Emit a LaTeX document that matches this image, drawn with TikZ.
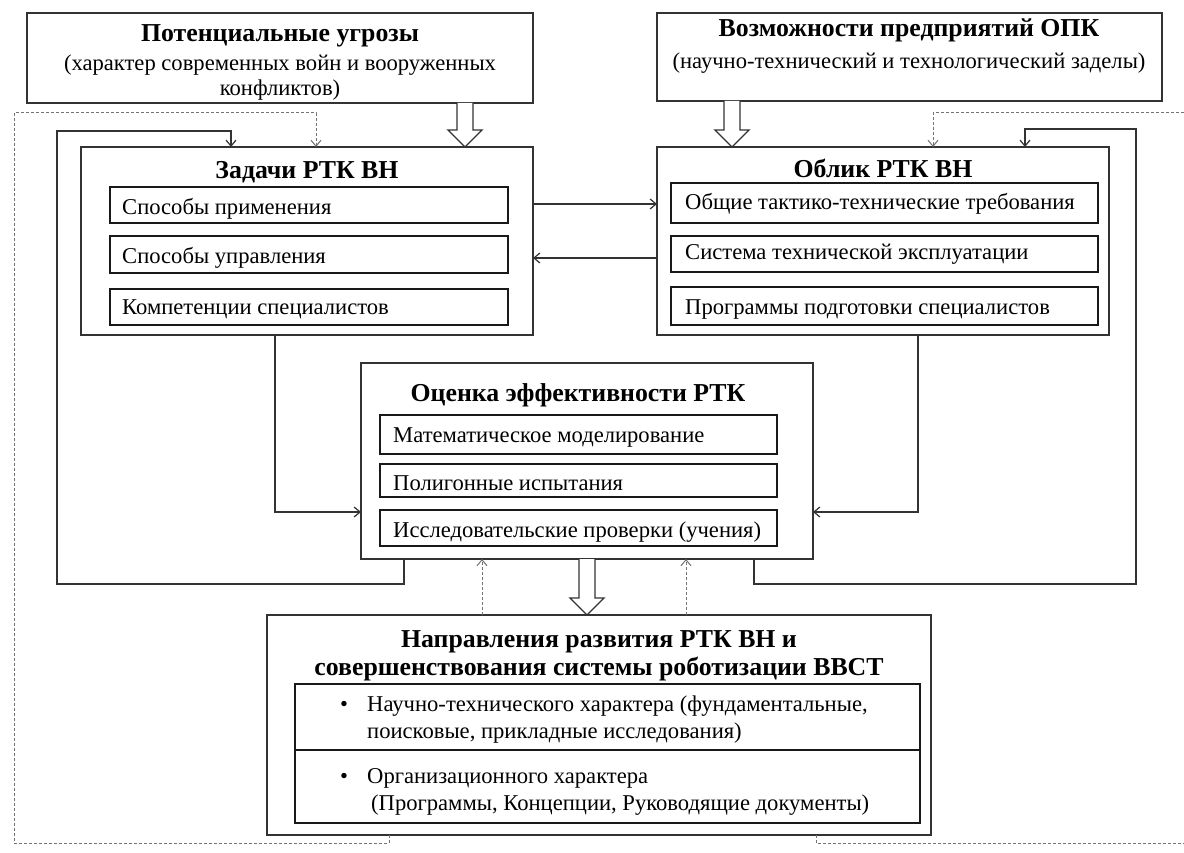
\documentclass[tikz,border=0pt]{standalone}
\usepackage{fontspec}
\setmainfont{Liberation Serif}
\usetikzlibrary{arrows.meta,positioning,fit,calc}
\tikzset{
  outerbox/.style={draw=black!80, line width=1.4pt, inner sep=0pt, outer sep=0pt},
  innerbox/.style={draw=black!90, line width=2.3pt, inner sep=0pt, outer sep=0pt},
  txt/.style={font=\fontsize{22.6}{26}\selectfont, inner sep=0pt, text=black},
  ttl/.style={font=\bfseries\fontsize{25.8}{30}\selectfont, inner sep=0pt, text=black},
  conn/.style={draw=black!80, line width=1.4pt, -{Straight Barb[length=6pt,width=10pt,line width=1.2pt]}},
  dashconn/.style={draw=black!55, line width=1pt, dash pattern=on 3pt off 2pt},
  dasharrow/.style={dashconn, -{Straight Barb[length=6pt,width=10pt,line width=1pt]}},
  blockarrow/.style={draw=black!80, line width=1.4pt, fill=white, line join=miter}
}
\newcommand\blockarrow[2]{%
  \draw[blockarrow] let \p1=(#1), \p2=(#2) in
    (\x1-8pt,\y1) -- (\x1-8pt,\y2+17pt) -- (\x1-17pt,\y2+17pt) -- (\x1,\y2)
    -- (\x1+17pt,\y2+17pt) -- (\x1+8pt,\y2+17pt) -- (\x1+8pt,\y1);}
\begin{document}
\begin{tikzpicture}[x=1pt,y=-1pt]
\useasboundingbox[fill=white] (0,0) rectangle (1184,853);

% ---- top boxes
\node[outerbox, fit={(27,13) (533,103)}] (A) {};
\node[ttl, anchor=base] (At) at (280,42) {Потенциальные угрозы};
\node[txt, anchor=base] (As1) at (280,71) {(характер современных войн и вооруженных};
\node[txt, anchor=base] (As2) at (280,96) {конфликтов)};

\node[outerbox, fit={(657,13) (1162,101)}] (B) {};
\node[ttl, anchor=base] (Bt) at (909,37) {Возможности предприятий ОПК};
\node[txt, anchor=base] (Bs) at (909,69) {(научно-технический и технологический заделы)};

% ---- Задачи
\node[outerbox, fit={(81,147) (533,335)}] (Z) {};
\node[ttl, anchor=base] (Zt) at (307,179) {Задачи РТК ВН};
\node[innerbox, fit={(110,187) (508,223)}] (Z1) {};
\node[innerbox, fit={(110,236) (508,273)}] (Z2) {};
\node[innerbox, fit={(110,289) (508,325)}] (Z3) {};
\node[txt, anchor=base west] (Z1t) at (122,215) {Способы применения};
\node[txt, anchor=base west] (Z2t) at (122,264) {Способы управления};
\node[txt, anchor=base west] (Z3t) at (122,314) {Компетенции специалистов};

% ---- Облик
\node[outerbox, fit={(657,147) (1109,335)}] (O) {};
\node[ttl, anchor=base] (Ot) at (883,178) {Облик РТК ВН};
\node[innerbox, fit={(671,183) (1098,223)}] (O1) {};
\node[innerbox, fit={(671,236) (1098,272)}] (O2) {};
\node[innerbox, fit={(671,287) (1098,325)}] (O3) {};
\node[txt, anchor=base west] (O1t) at (685,210) {Общие тактико-технические требования};
\node[txt, anchor=base west] (O2t) at (685,260) {Система технической эксплуатации};
\node[txt, anchor=base west] (O3t) at (685,315) {Программы подготовки специалистов};

% ---- Оценка
\node[outerbox, fit={(361,363) (813,559)}] (E) {};
\node[ttl, anchor=base] (Et) at (578,401) {Оценка эффективности РТК};
\node[innerbox, fit={(380,415) (777,454)}] (E1) {};
\node[innerbox, fit={(380,464) (777,497)}] (E2) {};
\node[innerbox, fit={(380,510) (777,546)}] (E3) {};
\node[txt, anchor=base west] (E1t) at (393,442) {Математическое моделирование};
\node[txt, anchor=base west] (E2t) at (393,490) {Полигонные испытания};
\node[txt, anchor=base west] (E3t) at (393,537) {Исследовательские проверки (учения)};

% ---- Направления
\node[outerbox, fit={(267,615) (931,835)}] (N) {};
\node[ttl, anchor=base] (Nt1) at (599,647) {Направления развития РТК ВН и};
\node[ttl, anchor=base] (Nt2) at (599,675) {совершенствования системы роботизации ВВСТ};
\node[innerbox, fit={(295,684) (920,750)}] (N1) {};
\node[innerbox, fit={(295,750) (920,823)}] (N2) {};
\node[txt, anchor=base west] (N1b) at (340,711) {•};
\node[txt, anchor=base west] (N1t) at (367,711) {Научно-технического характера (фундаментальные,};
\node[txt, anchor=base west] (N1u) at (367,738) {поисковые, прикладные исследования)};
\node[txt, anchor=base west] (N2b) at (340,783) {•};
\node[txt, anchor=base west] (N2t) at (367,783) {Организационного характера};
\node[txt, anchor=base west] (N2u) at (371,810) {(Программы, Концепции, Руководящие документы)};

% ---- block arrows
\blockarrow{465,0 |- A.south}{465,0 |- Z.north}
\blockarrow{732,0 |- B.south}{732,0 |- O.north}
\blockarrow{587,0 |- E.south}{587,0 |- N.north}

% ---- connectors
\draw[conn] (Z.east |- 0,204) -- (O.west |- 0,204);
\draw[conn] (O.west |- 0,258) -- (Z.east |- 0,258);
\draw[conn] (275,0 |- Z.south) |- (E.west |- 0,512);
\draw[conn] (918,0 |- O.south) |- (E.east |- 0,512);
\draw[conn] (404,0 |- E.south) |- (57,584) |- (231,131) -- (231,0 |- Z.north);
\draw[conn] (754,0 |- E.south) |- (1136,584) |- (1025,129) -- (1025,0 |- O.north);

% ---- dashed feedback
\coordinate (rtop) at (1184,113);
\coordinate (rbot) at (1184,843);
\draw[dasharrow] (389,0 |- N.south) |- (14,843) |- (316,113) -- (316,0 |- Z.north);
\draw[dashconn] (816,0 |- N.south) |- (rbot);
\draw[dasharrow] (rtop) -| (933,0 |- O.north);
\draw[dasharrow] (482,0 |- N.north) -- (482,0 |- E.south);
\draw[dasharrow] (686,0 |- N.north) -- (686,0 |- E.south);
\end{tikzpicture}
\end{document}
